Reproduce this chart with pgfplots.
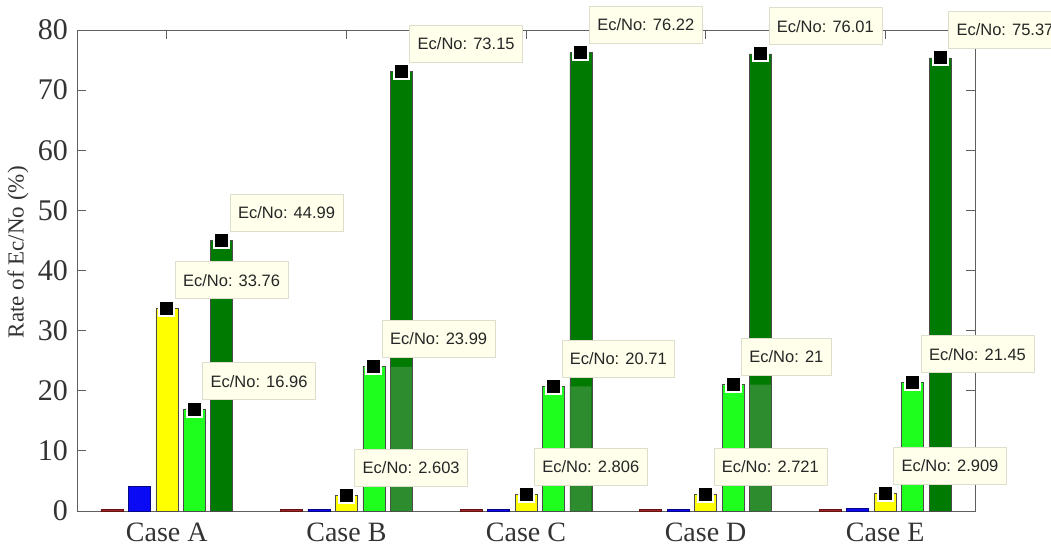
\documentclass[border=0pt]{standalone}
\usepackage{pgfplots}
\usepackage{pgfplotstable}
\pgfplotsset{compat=1.18}
\usepackage{fontspec}
\setmainfont{Liberation Serif}
\newfontfamily\tipfont{Liberation Sans}

\definecolor{barred}{RGB}{165,35,35}
\definecolor{barblue}{RGB}{10,10,245}
\definecolor{baryellow}{RGB}{255,255,0}
\definecolor{barlgreen}{RGB}{30,255,30}
\definecolor{bardgreen}{RGB}{0,122,0}
\definecolor{bardgreenlow}{RGB}{45,140,45}
\definecolor{tipfill}{RGB}{255,255,235}
\definecolor{tipedge}{RGB}{222,222,205}
\definecolor{axgray}{RGB}{95,95,95}

% Ec/No rate (%) per case, five configurations per case
\pgfplotstableread{
g  red   blue  yellow lgreen dgreen
1  0.25  4.15  33.76  16.96  44.99
2  0.25  0.25  2.603  23.99  73.15
3  0.25  0.25  2.806  20.71  76.22
4  0.25  0.25  2.721  21     76.01
5  0.25  0.45  2.909  21.45  75.37
}\ecno

% lighter lower section of the dark green bars
\pgfplotstableread{
g  low
2  23.99
3  20.71
4  21
}\ecnolow

\pgfplotsset{
  casebar/.style={ybar, bar width=22pt, bar shift=0pt, line width=0.6pt},
  tipmark/.style={only marks, mark=square*, mark size=7.5pt,
    mark options={fill=black, draw=white, line width=2pt},
    point meta=y,
    nodes near coords={Ec/No: \pgfmathprintnumber[fixed,precision=3]{\pgfplotspointmeta}},
    every node near coord/.append style={anchor=south west, xshift=8pt, yshift=9pt,
      font=\tipfont\fontsize{16.5}{19}\selectfont, fill=tipfill, draw=tipedge,
      line width=0.6pt, text=black!85, inner xsep=8pt, inner ysep=12.6pt,
      text height=11.8pt, text depth=0pt}},
}

\begin{document}
\begin{tikzpicture}
\begin{axis}[
  scale only axis,
  width=898pt, height=481pt,
  xmin=0.5, xmax=5.5, ymin=0, ymax=80,
  xtick={1,2,3,4,5},
  xticklabels={Case A, Case B, Case C, Case D, Case E},
  ytick={0,10,...,80},
  /pgf/number format/assume math mode=true,
  tick align=inside,
  major tick length=9pt,
  axis line style={axgray, line width=0.9pt},
  every tick/.style={axgray, line width=0.9pt},
  xticklabel style={font=\fontsize{28}{32}\selectfont, anchor=base, yshift=-30pt, text=black!80},
  yticklabel style={font=\fontsize{30}{34}\selectfont, inner sep=0pt, xshift=-9pt, text=black!80},
  ylabel={Rate of Ec/No (\%)},
  ylabel style={font=\fontsize{23}{27}\selectfont, at={(axis description cs:-0.0657,0.538)},
    anchor=center, rotate=0, text=black!80},
  clip=false,
]
\addplot[casebar, fill=barred, draw=barred!60!black] table[x expr=\thisrow{g}-0.3062, y=red] {\ecno};
\addplot[casebar, fill=barblue, draw=barblue!55!black] table[x expr=\thisrow{g}-0.1531, y=blue] {\ecno};
\addplot[casebar, fill=baryellow, draw=black!70] table[x=g, y=yellow] {\ecno};
\addplot[casebar, fill=barlgreen, draw=black!70] table[x expr=\thisrow{g}+0.1531, y=lgreen] {\ecno};
\addplot[casebar, fill=bardgreen, draw=black!70] table[x expr=\thisrow{g}+0.3062, y=dgreen] {\ecno};
\addplot[ybar, bar width=21pt, bar shift=0pt, fill=bardgreenlow, draw=none] table[x expr=\thisrow{g}+0.3062, y=low] {\ecnolow};

\addplot[tipmark] table[x=g, y=yellow] {\ecno};
\addplot[tipmark] table[x expr=\thisrow{g}+0.1531, y=lgreen] {\ecno};
\addplot[tipmark] table[x expr=\thisrow{g}+0.3062, y=dgreen] {\ecno};
\end{axis}
\pgfresetboundingbox
\useasboundingbox (-77pt,-35pt) rectangle (974pt,511pt);
\end{tikzpicture}
\end{document}
